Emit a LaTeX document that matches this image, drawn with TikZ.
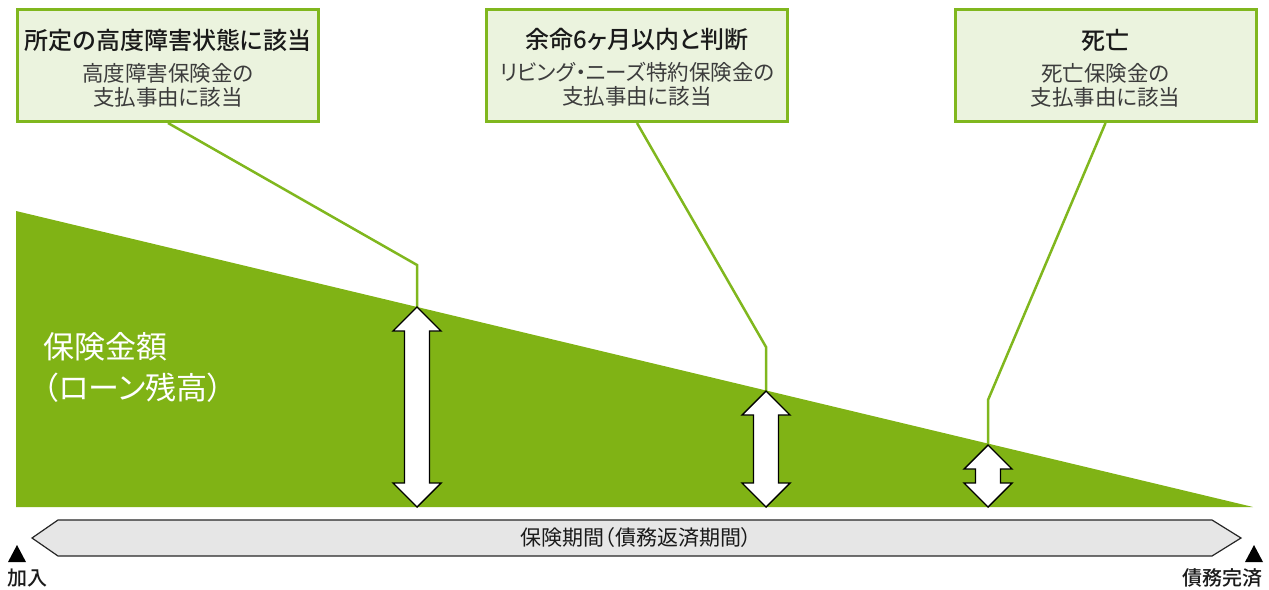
\documentclass[tikz,border=0pt]{standalone}
\usepackage{fontspec}
\setmainfont{Noto Sans CJK JP}[RawFeature=+palt, BoldFont={Noto Sans CJK JP Medium}]
\definecolor{grn}{RGB}{128,179,21}
\definecolor{boxfill}{RGB}{235,243,222}
\definecolor{boxline}{RGB}{128,183,30}
\definecolor{barfill}{RGB}{230,230,230}
\definecolor{txt}{RGB}{26,26,26}
\definecolor{subtxt}{RGB}{60,60,60}
\begin{document}
\begin{tikzpicture}[x=1pt,y=-1pt,
  eventbox/.style={draw=boxline, line width=3pt, fill=boxfill, minimum width=301pt, minimum height=112pt, inner sep=0pt},
  boxtitle/.style={text=txt, font=\fontsize{24}{27}\selectfont\bfseries, inner sep=0pt},
  boxsub/.style={text=subtxt, font=\fontsize{21.5}{24}\selectfont, align=center, inner sep=0pt},
  conn/.style={draw=boxline, line width=2.5pt},
  dblarr/.style={draw=black, fill=white, line width=1.4pt, line join=miter},
  bar/.style={draw=black!85, fill=barfill, line width=1.2pt},
  endlabel/.style={text=txt, font=\fontsize{20}{22}\selectfont\bfseries, inner sep=0pt}]
\useasboundingbox (0,0) rectangle (1269,589);
% green area
\fill[grn] (16,211) -- (1253,507) -- (16,507) -- cycle;
\node[anchor=west, align=left, text=white, font=\fontsize{31}{41}\selectfont, inner sep=0pt] (amount) at (43,367.5) {保険金額\\（ローン残高）};
% event boxes
\node[eventbox] (b1) at (168,65.5) {};
\node[eventbox] (b2) at (637,65.5) {};
\node[eventbox] (b3) at (1105.5,65.5) {};
\node[boxtitle] (b1t) at (168,40) {所定の高度障害状態に該当};
\node[boxsub] (b1s) at (168,85) {高度障害保険金の\\支払事由に該当};
\node[boxtitle] (b2t) at (637,39) {余命6ヶ月以内と判断};
\node[boxsub] (b2s) at (637,84.5) {リビング・ニーズ特約保険金の\\支払事由に該当};
\node[boxtitle] (b3t) at (1105.5,40) {死亡};
\node[boxsub] (b3s) at (1105.5,85) {死亡保険金の\\支払事由に該当};
% connector points
\coordinate (k1) at (417,265);
\coordinate (t1) at (417,307);
\coordinate (k2) at (766,347);
\coordinate (t2) at (766,391);
\coordinate (k3) at (988,400);
\coordinate (t3) at (988,445);
\draw[conn] (b1.south) -- (k1) -- (t1);
\draw[conn] (b2.south) -- (k2) -- (t2);
\draw[conn] (b3.south) -- (k3) -- (t3);
% double arrows
\foreach \x/\t in {417/307, 766/391, 988/445}{
  \draw[dblarr] (\x,\t) -- (\x+24,\t+24) -- (\x+12.5,\t+24) -- (\x+12.5,483) -- (\x+24,483) -- (\x,507)
    -- (\x-24,483) -- (\x-12.5,483) -- (\x-12.5,\t+24) -- (\x-24,\t+24) -- cycle;
}
% period bar
\draw[bar] (32,538) -- (58,520) -- (1212,520) -- (1241,538) -- (1212,556) -- (58,556) -- cycle;
\node[text=txt, font=\fontsize{21}{24}\selectfont, inner sep=0pt] (period) at (636,538) {保険期間（債務返済期間）};
% start / end markers
\fill[black] (17,545) -- (26,562) -- (8,562) -- cycle;
\fill[black] (1254,545) -- (1263,562) -- (1245,562) -- cycle;
\node[endlabel, anchor=west] (start) at (7,578) {加入};
\node[endlabel, anchor=east] (end) at (1263,578) {債務完済};
\end{tikzpicture}
\end{document}
